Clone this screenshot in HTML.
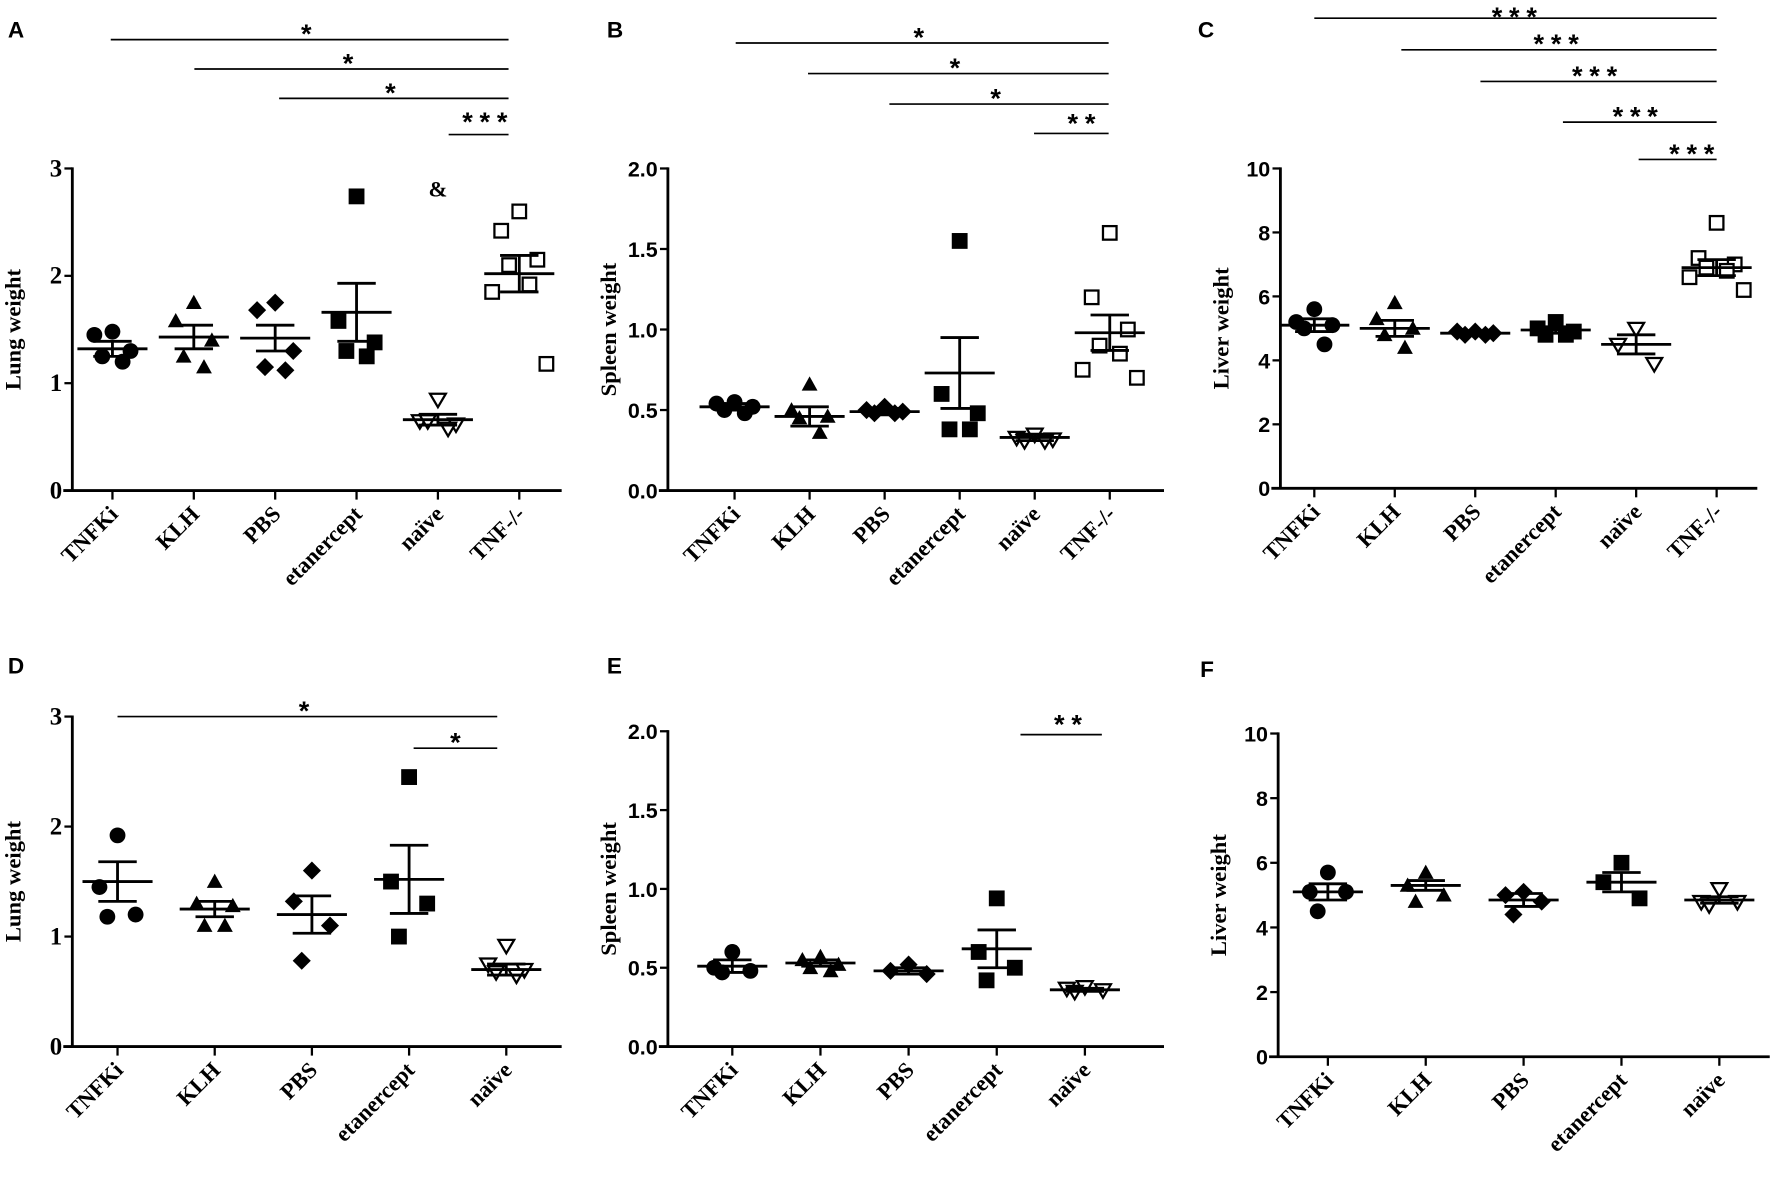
<!DOCTYPE html>
<html><head><meta charset="utf-8"><style>
html,body{margin:0;padding:0;background:#fff}
svg{display:block}
.t{font-family:"Liberation Serif",serif;font-weight:bold}
.s{font-family:"Liberation Sans",sans-serif;font-weight:bold}
</style></head><body>
<svg id="fig" width="1772" height="1180" viewBox="0 0 1568 1044" xmlns="http://www.w3.org/2000/svg"></svg>
<script>
const catsFull = ["TNFKi","KLH","PBS","etanercept","naïve","TNF-/-"];
const catsShort = ["TNFKi","KLH","PBS","etanercept","naïve"];
// Panel A lung
const aVals = [[1.48,1.45,1.3,1.25,1.2],[1.75,1.58,1.4,1.25,1.15],[1.75,1.68,1.3,1.15,1.12],[2.74,1.58,1.38,1.3,1.25],[0.85,0.65,0.62,0.65,0.58],[2.6,2.42,2.15,2.1,1.92,1.85,1.18]];
const aMean = [1.32,1.43,1.42,1.66,0.66,2.02];
const aSem = [0.07,0.11,0.12,0.27,0.05,0.17];
// Panel B spleen
const bVals = [[0.55,0.54,0.52,0.5,0.48],[0.66,0.5,0.46,0.45,0.36],[0.52,0.5,0.49,0.48,0.48],[1.55,0.6,0.48,0.38,0.38],[0.35,0.33,0.32,0.31,0.31],[1.6,1.2,1.0,0.9,0.85,0.75,0.7]];
const bMean = [0.52,0.46,0.49,0.73,0.33,0.98];
const bSem = [0.02,0.06,0.02,0.22,0.02,0.11];
// Panel C liver
const cVals = [[5.6,5.2,5.1,5.0,4.5],[5.8,5.3,5.0,4.8,4.4],[4.9,4.9,4.85,4.8,4.8],[5.2,5.0,4.9,4.8,4.8],[5.0,4.5,3.9],[8.3,7.2,7.0,6.9,6.8,6.6,6.2]];
const cMean = [5.1,5.0,4.85,4.95,4.5,6.9];
const cSem = [0.2,0.25,0.05,0.1,0.3,0.25];
// Panel D lung
const dVals = [[1.92,1.45,1.2,1.18],[1.5,1.3,1.28,1.1,1.1],[1.6,1.32,1.1,0.78],[2.45,1.5,1.3,1.0],[0.92,0.75,0.7,0.68,0.65]];
const dMean = [1.5,1.25,1.2,1.52,0.7];
const dSem = [0.18,0.07,0.17,0.31,0.05];
// Panel E spleen
const eVals = [[0.6,0.5,0.48,0.47],[0.57,0.55,0.52,0.5,0.48],[0.52,0.48,0.46],[0.94,0.6,0.5,0.42],[0.38,0.37,0.36,0.35]];
const eMean = [0.51,0.53,0.48,0.62,0.36];
const eSem = [0.04,0.02,0.02,0.12,0.01];
// Panel F liver
const fVals = [[5.7,5.1,5.1,4.5],[5.7,5.3,5.0,4.8],[5.1,5.0,4.8,4.4],[6.0,5.4,4.9],[5.2,4.8,4.8,4.7]];
const fMean = [5.1,5.3,4.85,5.4,4.85];
const fSem = [0.25,0.15,0.2,0.3,0.1];
const lungTicks = [0,1,2,3];
const spleenTicks = [0,0.5,1.0,1.5,2.0];
const liverTicks = [0,2,4,6,8,10];

const NS="http://www.w3.org/2000/svg";
const svg=document.getElementById('fig');
function el(tag,attrs,parent,text){const e=document.createElementNS(NS,tag);for(const k in attrs)e.setAttribute(k,attrs[k]);if(text!==undefined)e.textContent=text;(parent||svg).appendChild(e);return e;}
const jit=[0,-16,16,-9,9,-24,24];

function panel(p){
  const g=el('g',{});
  
  
  const yS=v=>p.y0-(v/p.max)*(p.y0-p.yt);
  const xS=i=>p.c0+i*p.step;
  const lt=el('text',{x:p.lx,y:p.ly,'font-size':20,class:'s'},g,p.id);
  
  
  const ya=el('line',{x1:p.ax,y1:p.yt-1,x2:p.ax,y2:p.y0,stroke:'#000','stroke-width':2.5},g);
  
  
  const xa=el('line',{x1:p.ax-8,y1:p.y0,x2:p.xe,y2:p.y0,stroke:'#000','stroke-width':2.5},g);
  
  
  p.ticks.forEach(t=>{
    const y=yS(t);
    el('line',{x1:p.ax-7,y1:y,x2:p.ax,y2:y,stroke:'#000','stroke-width':2},g);
    const tx=el('text',{x:p.ax-9,y:y+7,'font-size':p.serifTicks?22:19,'text-anchor':'end',class:p.serifTicks?'t':'s'},g,p.fmt(t));
    
    
  });
  const yl=el('text',{transform:`translate(${p.ax-46},${(p.y0+p.yt)/2}) rotate(-90)`,'font-size':20,'text-anchor':'middle',class:'t'},g,p.ytitle);
  
  
  p.cats.forEach((c,i)=>{
    const x=xS(i);
    el('line',{x1:x,y1:p.y0,x2:x,y2:p.y0+8,stroke:'#000','stroke-width':2},g);
    const tx=el('text',{transform:`translate(${x+6},${p.y0+22}) rotate(-45)`,'font-size':20,'text-anchor':'end',class:'t'},g,c);
    
    
    const vals=p.vals[i];
    vals.forEach((v,j)=>{
      const mx=x+jit[j%jit.length], my=yS(v);
      let m; const r=7;
      if(i===0) m=el('circle',{cx:mx,cy:my,r:r,fill:'#000'},g);
      else if(i===1) m=el('polygon',{points:`${mx},${my-r} ${mx-r},${my+r*0.8} ${mx+r},${my+r*0.8}`,fill:'#000'},g);
      else if(i===2) m=el('polygon',{points:`${mx},${my-r-1} ${mx+r+1},${my} ${mx},${my+r+1} ${mx-r-1},${my}`,fill:'#000'},g);
      else if(i===3) m=el('rect',{x:mx-r,y:my-r,width:2*r,height:2*r,fill:'#000'},g);
      else if(i===4) m=el('polygon',{points:`${mx-r},${my-r*0.7} ${mx+r},${my-r*0.7} ${mx},${my+r}`,fill:'#fff',stroke:'#000','stroke-width':2},g);
      else m=el('rect',{x:mx-r+1,y:my-r+1,width:2*r-2,height:2*r-2,fill:'#fff',stroke:'#000','stroke-width':2},g);
      
      
    });
    const ym=yS(p.mean[i]), yh=yS(p.mean[i]+p.sem[i]), ylo=yS(p.mean[i]-p.sem[i]);
    const mg=el('g',{stroke:'#000','stroke-width':2.5},g);
    
    
    el('line',{x1:x-31,y1:ym,x2:x+31,y2:ym},mg);
    el('line',{x1:x,y1:yh,x2:x,y2:ylo},mg);
    el('line',{x1:x-17,y1:yh,x2:x+17,y2:yh},mg);
    el('line',{x1:x-17,y1:ylo,x2:x+17,y2:ylo},mg);
  });
  p.sig.forEach(s=>{
    const sg=el('g',{},g);
    
    
    el('line',{x1:s[0],y1:s[2],x2:s[1],y2:s[2],stroke:'#000','stroke-width':1.5},sg);
    el('text',{x:s[4]!==undefined?s[4]:(s[0]+s[1])/2,y:s[2]+3+(s[5]||0),'font-size':24,'text-anchor':'middle',class:'s','letter-spacing':6},sg,s[3]);
  });
  if(p.amp){const a=el('text',{x:xS(4),y:yS(p.amp)+6,'font-size':20,'text-anchor':'middle',class:'t'},g,'&');
    }
}
panel({id:'A',lx:7,ly:33,ax:64,y0:434,yt:149,max:3,ticks:lungTicks,fmt:t=>String(t),serifTicks:true,c0:99.5,step:72,xe:497,cats:catsFull,vals:aVals,mean:aMean,sem:aSem,ytitle:'Lung weight',amp:2.8,
 sig:[[98,450,35,'*'],[172,450,61,'*'],[247,450,87,'*'],[397,450,119,'***',432,-6]]});
panel({id:'B',lx:537,ly:33,ax:591,y0:434,yt:149,max:2,ticks:spleenTicks,fmt:t=>t.toFixed(1),c0:650,step:66.4,xe:1030,cats:catsFull,vals:bVals,mean:bMean,sem:bSem,ytitle:'Spleen weight',
 sig:[[651,981,38,'*'],[715,981,65,'*'],[787,981,92,'*'],[915,981,118,'**',960,-4]]});
panel({id:'C',lx:1060,ly:33,ax:1133,y0:432,yt:149,max:10,ticks:liverTicks,fmt:t=>String(t),c0:1163,step:71.2,xe:1555,cats:catsFull,vals:cVals,mean:cMean,sem:cSem,ytitle:'Liver weight',
 sig:[[1163,1519,16,'***',1343,4],[1240,1519,44,'***',1380],[1310,1519,72,'***',1414],[1383,1519,108,'***',1450],[1450,1519,141,'***',1500]]});
panel({id:'D',lx:7,ly:596,ax:64,y0:926,yt:634,max:3,ticks:lungTicks,fmt:t=>String(t),serifTicks:true,c0:104,step:86,xe:497,cats:catsShort,vals:dVals,mean:dMean,sem:dSem,ytitle:'Lung weight',
 sig:[[104,440,634,'*',272],[366,440,662,'*',406]]});
panel({id:'E',lx:537,ly:596,ax:591,y0:926,yt:647,max:2,ticks:spleenTicks,fmt:t=>t.toFixed(1),c0:648,step:78,xe:1030,cats:catsShort,vals:eVals,mean:eMean,sem:eSem,ytitle:'Spleen weight',
 sig:[[903,975,650,'**',948,-4]]});
panel({id:'F',lx:1062,ly:599,ax:1131,y0:935,yt:649,max:10,ticks:liverTicks,fmt:t=>String(t),c0:1175,step:86.6,xe:1566,cats:catsShort,vals:fVals,mean:fMean,sem:fSem,ytitle:'Liver weight',sig:[]});
</script>
</body></html>
